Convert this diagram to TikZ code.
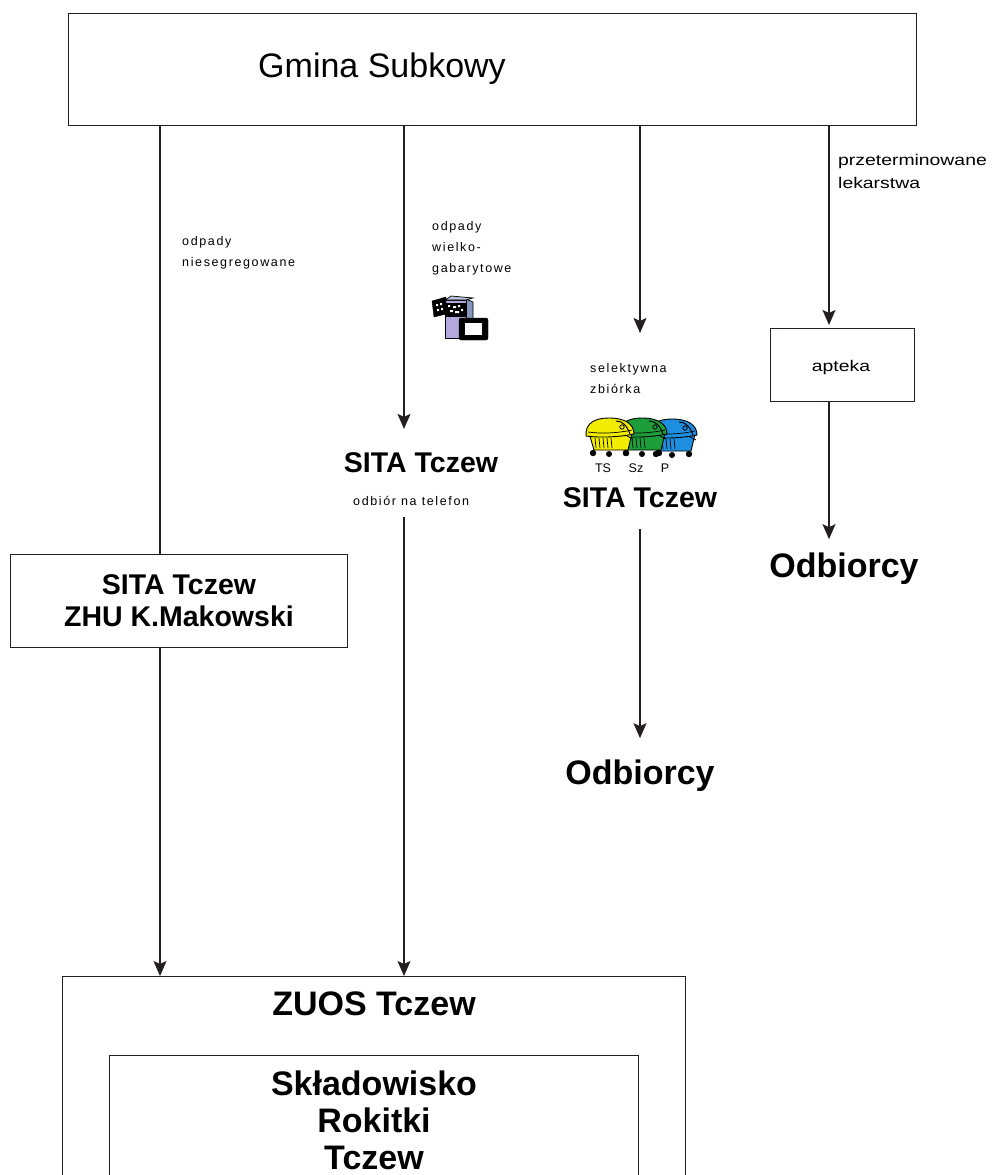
\documentclass[tikz,border=0pt]{standalone}
\usepackage{fontspec}
\setmainfont{Liberation Sans}
\newfontfamily\spacedfont[LetterSpace=13]{Liberation Sans}
\newfontfamily\widefont[FakeStretch=1.25]{Liberation Sans}
\usetikzlibrary{arrows.meta}
\definecolor{ln}{HTML}{231F20}
\definecolor{binyellow}{HTML}{F2EC00}
\definecolor{bingreen}{HTML}{1E9E3A}
\definecolor{binblue}{HTML}{1E8FE0}
\definecolor{fridge}{HTML}{B4A9DD}
\definecolor{fridgeside}{HTML}{8497BF}
\tikzset{
  box/.style={draw=ln, line width=1.2pt, inner sep=0pt, fill=white},
  plain/.style={draw=ln, line width=1.5pt},
  flow/.style={draw=ln, line width=1.5pt, -{Stealth[length=15pt,width=13pt,inset=3pt]}},
  txt/.style={inner sep=0pt, text=black},
  huge/.style={txt, font=\fontsize{34}{40}\selectfont},
  bigb/.style={txt, font=\bfseries\fontsize{28.5}{32}\selectfont, align=center},
  hugeb/.style={txt, font=\bfseries\fontsize{34}{37}\selectfont, align=center},
  small/.style={txt, font=\spacedfont\fontsize{12.5}{21}\selectfont, align=left},
  wide/.style={txt, font=\widefont\fontsize{15.5}{23}\selectfont, align=left},
  tiny/.style={txt, font=\fontsize{12.5}{14}\selectfont},
  pics/bin/.style={code={
    \filldraw[fill=#1, draw=black, line width=0.9pt] (4,16) -- (47,16) -- (43,33) -- (9,33) -- cycle;
    \filldraw[fill=#1, draw=black, line width=0.9pt] (1,19) .. controls (0,6) and (10,1) .. (24,1)
        .. controls (40,1) and (49,7) .. (49,17) .. controls (35,20) and (15,21) .. (1,19) -- cycle;
    \draw[black, line width=0.7pt] (3,15) .. controls (16,17) and (34,16) .. (47,13);
    \draw[black, line width=0.7pt] (10,21) -- (11,31) (14,21) -- (15,31) (18,21) -- (19,31) (22,21) -- (23,31) (26,21) -- (27,31);
    \draw[black, line width=1pt] (31,4) .. controls (38,4) and (42,9) .. (45,17);
    \draw[black, line width=0.8pt] (37,10) circle (2.2pt) (42,19) -- (48,22);
    \fill[black] (8,36) circle (3.2pt) (24,37) circle (3pt) (41,36) circle (3.2pt);
  }}
}
\begin{document}
\begin{tikzpicture}[x=1pt,y=-1pt]
\useasboundingbox (0,0) rectangle (991,1175);
\clip (0,0) rectangle (991,1175);
\fill[white] (0,0) rectangle (991,1175);

% column x positions
\coordinate (c1) at (160,0);
\coordinate (c2) at (404,0);
\coordinate (c3) at (640,0);
\coordinate (c4) at (829,0);

% top box
\node[box, minimum width=848pt, minimum height=112pt, anchor=north west] (gmina) at (68,13) {};
\node[huge, anchor=base] (gminat) at (382,77) {Gmina Subkowy};

% left branch
\node[small, anchor=north west] (lab1) at (182,236) {odpady\\niesegregowane};
\node[box, minimum width=337pt, minimum height=93pt, anchor=north west] (sita1) at (10,554) {};
\node[bigb, anchor=north] (sita1t) at (179,574) {SITA Tczew\\ZHU K.Makowski};

% second branch
\node[small, anchor=north west] (lab2) at (432,221) {odpady\\wielko-\\gabarytowe};
\node[bigb, anchor=base] (sita2) at (421,472) {SITA Tczew};
\node[small, anchor=base west] (tel) at (353,505) {odbiór na telefon};

% third branch
\node[small, anchor=north west] (lab3) at (590,363) {selektywna\\zbiórka};
\node[bigb, anchor=base] (sita3) at (640,507) {SITA Tczew};
\node[hugeb, anchor=base] (odb3) at (640,784) {Odbiorcy};
\node[tiny, anchor=base] (ts) at (603,472) {TS};
\node[tiny, anchor=base] (sz) at (636,472) {Sz};
\node[tiny, anchor=base] (pp) at (665,472) {P};

% fourth branch
\node[wide, anchor=north west] (lab4) at (838,154) {przeterminowane\\lekarstwa};
\node[box, minimum width=144pt, minimum height=73pt, anchor=north west] (apteka) at (770,328) {};
\node[wide, anchor=base] (aptekat) at (841,371) {apteka};
\node[hugeb, anchor=base] (odb4) at (844,577) {Odbiorcy};

% bottom boxes
\node[box, minimum width=623pt, minimum height=320pt, anchor=north west] (zuos) at (62,976) {};
\node[hugeb, anchor=base] (zuost) at (374,1015) {ZUOS Tczew};
\node[box, minimum width=529pt, minimum height=240pt, anchor=north west] (skl) at (109,1055) {};
\node[hugeb, anchor=north] (sklt) at (374,1071) {Składowisko\\Rokitki\\Tczew};

% connectors
\draw[plain] (c1 |- gmina.south) -- (c1 |- sita1.north);
\draw[flow] (c1 |- sita1.south) -- (c1 |- zuos.north);
\draw[flow, shorten >=23pt] (c2 |- gmina.south) -- (c2 |- sita2.north);
\draw[flow, shorten <=12pt] (c2 |- tel.south) -- (c2 |- zuos.north);
\draw[flow, shorten >=30pt] (c3 |- gmina.south) -- (c3 |- lab3.north);
\draw[flow, shorten <=22pt, shorten >=21pt] (c3 |- sita3.south) -- (c3 |- odb3.north);
\draw[flow, shorten >=3pt] (c4 |- gmina.south) -- (c4 |- apteka.north);
\draw[flow, shorten >=13pt] (c4 |- apteka.south) -- (c4 |- odb4.north);

% fridge + tv icon
\filldraw[fill=fridgeside, draw=black, line width=0.7pt] (466,299) -- (473,302) -- (473,328) -- (466,331) -- cycle;
\filldraw[fill=fridge, draw=black, line width=0.8pt] (445,300) rectangle (466,338);
\filldraw[fill=fridgeside!60!white, draw=black, line width=0.7pt] (445,300) -- (451,296) -- (473,298) -- (466,300) -- cycle;
\filldraw[fill=black, draw=black] (445,303) rectangle (466,316);
\fill[white] (448,305) rectangle (450,307) (453,306) rectangle (456,308) (458,305) rectangle (460,307)
  (450,310) rectangle (453,312) (455,311) rectangle (459,313) (461,309) rectangle (463,311);
\filldraw[fill=black, draw=black] (432,301) -- (446,297) -- (446,314) -- (434,317) -- cycle;
\fill[white] (436,304) rectangle (438,306) (440,303) rectangle (442,305) (437,309) rectangle (439,311) (441,308) rectangle (443,310);
\filldraw[fill=black, draw=black, rounded corners=2pt] (459,318) rectangle (488,340);
\fill[white] (465,323) rectangle (482,335);

% bins icon
\pic at (648,418) {bin=binblue};
\pic at (618,417) {bin=bingreen};
\pic at (585,417) {bin=binyellow};
\end{tikzpicture}
\end{document}
